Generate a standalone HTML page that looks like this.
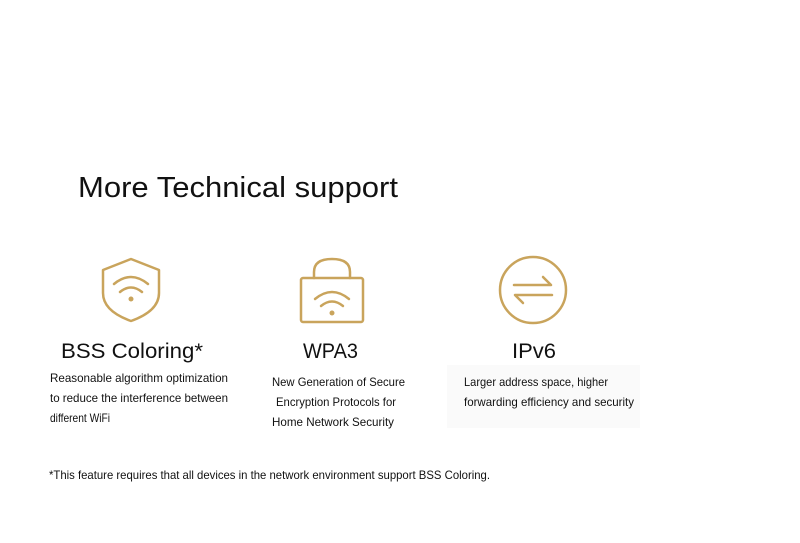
<!DOCTYPE html>
<html><head><meta charset="utf-8"><style>
html,body{margin:0;padding:0;background:#fff;}
svg{display:block;}
text{font-family:"Liberation Sans",sans-serif;fill:#111;}
</style></head><body>
<svg width="800" height="543" viewBox="0 0 800 543" xmlns="http://www.w3.org/2000/svg">
<rect x="447" y="365" width="193" height="63" fill="#fafafa"/>
<text x="78" y="197" font-size="29" textLength="320" lengthAdjust="spacingAndGlyphs">More Technical support</text>
<g fill="none" stroke="#c9a45c" stroke-width="2.5" stroke-linecap="round" stroke-linejoin="round">
<!-- shield -->
<path d="M131 259 L159 270 L159 293 Q159 311 131 321 Q103 311 103 293 L103 270 Z"/>
<path d="M114 284 Q131 270 148 284"/>
<path d="M120 292 Q131 283 142 292"/>
<!-- lock -->
<path d="M314 278 L314 272 Q314 259 332 259 Q350 259 350 272 L350 278"/>
<rect x="301" y="278" width="62" height="44" rx="2"/>
<path d="M315 299 Q332 285 349 299"/>
<path d="M321 306 Q332 297 343 306"/>
<!-- circle -->
<circle cx="533" cy="290" r="33"/>
<path d="M514 285 L551 285 L543 277"/>
<path d="M552 295 L515 295 L523 303"/>
</g>
<circle cx="131" cy="299" r="2.5" fill="#c9a45c"/>
<circle cx="332" cy="313" r="2.5" fill="#c9a45c"/>
<text x="61" y="358" font-size="21" textLength="142" lengthAdjust="spacingAndGlyphs">BSS Coloring*</text>
<text x="303" y="358" font-size="21" textLength="55" lengthAdjust="spacingAndGlyphs">WPA3</text>
<text x="512" y="358" font-size="21" textLength="44" lengthAdjust="spacingAndGlyphs">IPv6</text>
<g font-size="12">
<text x="50" y="382" textLength="178" lengthAdjust="spacingAndGlyphs">Reasonable algorithm optimization</text>
<text x="50" y="402" textLength="178" lengthAdjust="spacingAndGlyphs">to reduce the interference between</text>
<text x="50" y="422" textLength="60" lengthAdjust="spacingAndGlyphs">different WiFi</text>
<text x="272" y="386" textLength="133" lengthAdjust="spacingAndGlyphs">New Generation of Secure</text>
<text x="276" y="406" textLength="120" lengthAdjust="spacingAndGlyphs">Encryption Protocols for</text>
<text x="272" y="426" textLength="122" lengthAdjust="spacingAndGlyphs">Home Network Security</text>
<text x="464" y="386" textLength="144" lengthAdjust="spacingAndGlyphs">Larger address space, higher</text>
<text x="464" y="406" textLength="170" lengthAdjust="spacingAndGlyphs">forwarding efficiency and security</text>
<text x="49" y="479" textLength="441" lengthAdjust="spacingAndGlyphs">*This feature requires that all devices in the network environment support BSS Coloring.</text>
</g>
</svg>
</body></html>
